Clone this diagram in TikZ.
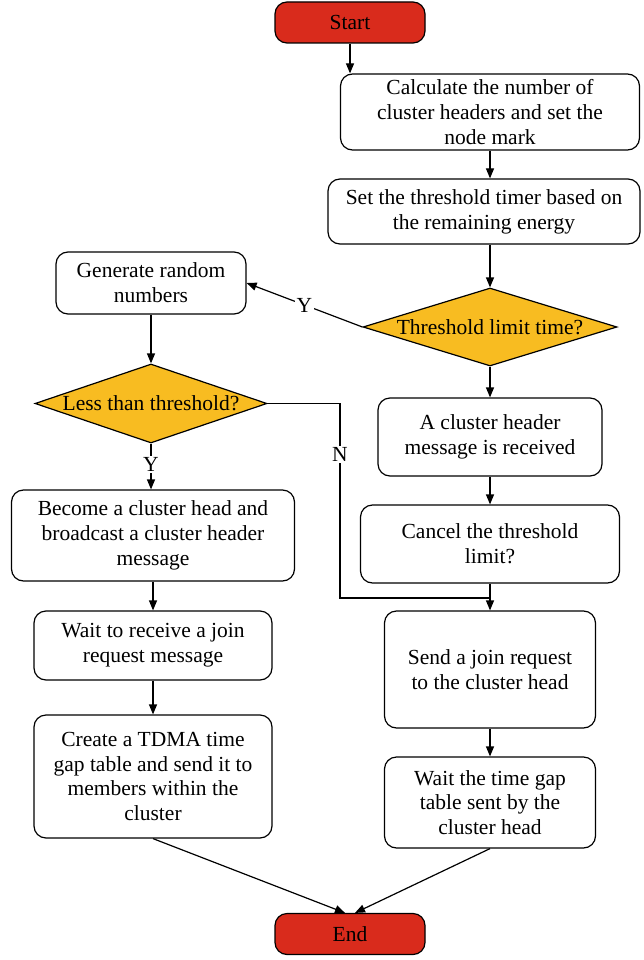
\documentclass[tikz,border=0pt]{standalone}
\usepackage{fontspec}
\setmainfont{Liberation Serif}
\usetikzlibrary{shapes.geometric,arrows.meta}
\definecolor{termred}{HTML}{D92B1C}
\definecolor{decyellow}{HTML}{F8BC21}
\begin{document}
\begin{tikzpicture}[x=1pt,y=-1pt,
  font=\fontsize{21.5}{24.8}\selectfont,
  box/.style={draw, rounded corners=12pt, line width=1.2pt, align=center, inner sep=0pt, fill=white},
  term/.style={box, fill=termred, minimum width=150pt, minimum height=41pt},
  dec/.style={draw, diamond, fill=decyellow, line width=1.2pt, inner sep=0pt},
  arr/.style={-{Triangle[length=10pt,width=8pt]}, line width=1.2pt},
  ln/.style={line width=1.2pt},
  lbl/.style={fill=white, inner sep=1.5pt}]
\useasboundingbox (0,0) rectangle (643,960);
% right column
\node[term] (start) at (350,22.5) {Start};
\node[box, minimum width=299pt, minimum height=76pt] (calc) at (490,112) {Calculate the number of\\cluster headers and set the\\node mark};
\node[box, minimum width=312pt, minimum height=65pt] (thr) at (484,211.5) {Set the threshold timer based on\\the remaining energy};
\node[dec, minimum width=254pt, minimum height=78pt] (tlt) at (490,327) {\makebox[0pt]{Threshold limit time?}};
\node[box, minimum width=224pt, minimum height=78pt] (rec) at (490,437) {A cluster header\\message is received};
\node[box, minimum width=259pt, minimum height=78pt] (cancel) at (490,544) {Cancel the threshold\\limit?};
\node[box, minimum width=211pt, minimum height=117pt] (send) at (490,669.5) {Send a join request\\to the cluster head};
\node[box, minimum width=211pt, minimum height=91pt] (waitg) at (490,802.5) {Wait the time gap\\table sent by the\\cluster head};
% left column
\node[box, minimum width=190pt, minimum height=62pt] (gen) at (151,283) {Generate random\\numbers};
\node[dec, minimum width=232pt, minimum height=79pt] (less) at (151,403.5) {\makebox[0pt]{Less than threshold?}};
\node[box, minimum width=283pt, minimum height=91pt] (become) at (153,535.5) {Become a cluster head and\\broadcast a cluster header\\message};
\node[box, minimum width=238pt, minimum height=69pt] (waitj) at (153,645.5) {Wait to receive a join\\request message};
\node[box, minimum width=238pt, minimum height=123pt] (tdma) at (153,776.5) {Create a TDMA time\\gap table and send it to\\members within the\\cluster};
\node[term] (end) at (350,934) {End};
% connectors
\draw[arr] (start) -- (start |- calc.north);
\draw[arr] (calc.south) -- (calc.south |- thr.north);
\draw[arr] (calc.south |- thr.south) -- (tlt.north);
\draw[arr] (tlt.south) -- (rec.north);
\draw[arr] (rec.south) -- (cancel.north);
\draw[arr] (cancel.south) -- (send.north);
\draw[arr] (send.south) -- (waitg.north);
\draw[arr] (tlt.west) -- node[lbl, pos=0.5] {Y} (gen.east);
\draw[arr] (gen.south) -- (less.north);
\draw[arr] (less.south) -- node[lbl, pos=0.45] {Y} (less.south |- become.north);
\draw[arr] (become.south) -- (waitj.north);
\draw[arr] (waitj.south) -- (tdma.north);
\coordinate (nturn) at (340,598);
\draw[ln] (less.east) -| node[lbl, pos=0.63] {N} (nturn) -- (send.north |- nturn);
\draw[arr] (tdma.south) -- ([xshift=-5pt]end.north);
\draw[arr] (waitg.south) -- ([xshift=5pt]end.north);
\end{tikzpicture}
\end{document}
